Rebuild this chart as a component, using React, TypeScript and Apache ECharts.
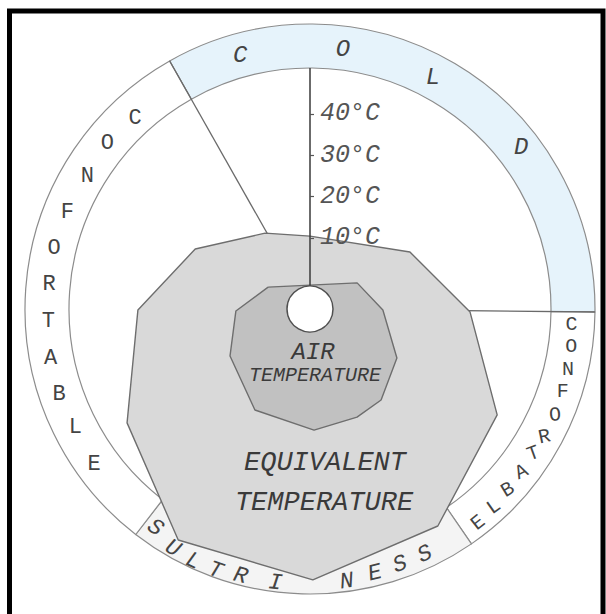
import React, { useEffect, useRef } from "react";
import * as echarts from "echarts";

// ---- data ----
const zoneNames = ["COLD", "CONFORTABLE", "SULTRINESS", "NO CONFORTABLE"];
const zoneSpans = [120.1, 54.9, 72.2, 112.8]; // degrees of the outer ring
const zoneStartCompass = 330.5; // compass angle where COLD begins
const dividerAngles = [330.5, 90.6];
const tickValues = [10, 20, 30, 40];
const axisTop = 51.07; // °C value reached by the drawn scale line (inner circle)

// equivalent temperature polygon (°C scale, compass angle)
const eqAngles = [329.4, 0, 60.3, 91.1, 119.5, 149.5, 179.4, 209.7, 238.1, 269.7, 297.6];
const eqValues = [14.1, 10.4, 20.6, 31.5, 44.8, 53.7, 58.3, 57.1, 44.9, 34.4, 24.1];
// air temperature polygon
const airAngles = [297.6, 61.0, 90.8, 119.4, 142.0, 156.5, 178.1, 208.6, 239.6, 268.5];
const airValues = [4.2, 5.8, 10.4, 16.9, 20.7, 21.3, 22.1, 20.6, 15.2, 10.7];

// ring lettering
const coldLetters = ["C", "O", "L", "D"];
const leftLetters = ["C", "O", "N", "F", "O", "R", "T", "A", "B", "L", "E"];
const rightLetters = ["C", "O", "N", "F", "O", "R", "T", "A", "B", "L", "E"];
const bottomLetters = ["S", "U", "L", "T", "R", "I", "N", "E", "S", "S"];

// ---- layout ----
const CX = 310;
const CY = 309;
const HOLE_R = 23;
const INNER_R = 241;
const OUTER_R = 285;
const R_MIN = -1.67;
const R_MAX = 61.72; // value at the outer circle
const MONO = "'Liberation Mono', 'Courier New', monospace";

const coldPos = { angles: [344.6, 7.2, 28, 52.6], radii: [263, 262, 262, 266], rot: [0, 0, 0, 0] };
const leftPos = {
  angles: [317.5, 309.3, 300.7, 291.6, 283.4, 275.3, 267.2, 259.3, 251.2, 243.1, 234.3],
  radii: [259, 262, 259, 261, 263, 262, 262, 264, 265, 263, 266],
  rot: [0, 0, 0, 0, 0, 0, 0, 0, 0, 0, 0],
};
const rightPos = {
  angles: [93.5, 98.2, 103.3, 108.1, 113.4, 118.6, 122.9, 127.6, 132.4, 137.1, 141.8],
  radii: [262, 264, 265, 266, 267, 267, 266, 267, 268, 270, 272],
  rot: [0, 0, 0, 0, 4, 12, 20, 26, 31, 35, 38],
};
const bottomPos = {
  angles: [215.3, 209.8, 204.9, 199.9, 194.6, 187.2, 172.3, 166.2, 160.6, 154.9],
  radii: [268, 276, 278, 278, 276, 276, 275, 272, 271, 271],
  rot: [-35, -30, -25, -20, -15, -7, 8, 14, 19, 25],
};

function letterEls(
  letters: string[],
  pos: { angles: number[]; radii: number[]; rot: number[] },
  size: number,
  italic: boolean
) {
  return letters.map((ch, i) => {
    const a = (pos.angles[i] * Math.PI) / 180;
    const r = pos.radii[i];
    return {
      type: "text",
      x: CX + r * Math.sin(a),
      y: CY - r * Math.cos(a),
      rotation: (pos.rot[i] * Math.PI) / 180,
      z: 120,
      silent: true,
      style: {
        text: ch,
        fill: "#444",
        fontSize: size,
        fontFamily: MONO,
        fontStyle: italic ? "italic" : "normal",
        textAlign: "center",
        textVerticalAlign: "middle",
        align: "center",
        verticalAlign: "middle",
      },
    };
  });
}

function label(text: string, x: number, y: number, size: number) {
  return {
    type: "text",
    x,
    y,
    z: 120,
    silent: true,
    style: {
      text,
      fill: "#3a3a3a",
      fontSize: size,
      fontFamily: MONO,
      fontStyle: "italic",
      textAlign: "center",
      textVerticalAlign: "middle",
      align: "center",
      verticalAlign: "middle",
    },
  };
}

function closed(values: number[], angles: number[]) {
  const pts = values.map((v, i) => [v, angles[i]]);
  pts.push(pts[0]);
  return pts;
}

export default function App() {
  const ref = useRef<HTMLDivElement>(null);
  useEffect(() => {
    if (!ref.current) return;
    const chart = echarts.init(ref.current, null, { renderer: "svg" });
    const zoneColors = ["#e6f3fb", "#ffffff", "#f4f4f4", "#ffffff"];
    const option: any = {
      animation: false,
      backgroundColor: "#ffffff",
      polar: { center: [CX, CY], radius: [HOLE_R, OUTER_R] },
      angleAxis: {
        type: "value",
        min: 0,
        max: 360,
        startAngle: 90,
        clockwise: true,
        show: false,
      },
      radiusAxis: {
        type: "value",
        min: R_MIN,
        max: R_MAX,
        z: 10,
        axisLine: { show: false },
        axisTick: {
          customValues: tickValues,
          length: -4,
          lineStyle: { color: "#555", width: 1.2 },
        },
        axisLabel: {
          customValues: tickValues,
          formatter: "{value}°C",
          margin: -10,
          align: "left",
          verticalAlign: "middle",
          color: "#555",
          fontSize: 25,
          fontStyle: "italic",
          fontFamily: MONO,
        },
        splitLine: { show: false },
        splitArea: { show: false },
      },
      series: [
        {
          type: "pie",
          z: 1,
          silent: true,
          center: [CX, CY],
          radius: [INNER_R, OUTER_R],
          startAngle: 90 - zoneStartCompass + 360,
          clockwise: true,
          label: { show: false },
          labelLine: { show: false },
          emphasis: { disabled: true },
          itemStyle: { borderColor: "#8c8c8c", borderWidth: 1.2 },
          data: zoneNames.map((n, i) => ({
            name: n,
            value: zoneSpans[i],
            itemStyle: { color: zoneColors[i] },
          })),
        },
        ...dividerAngles.map((ang) => ({
          type: "line",
          z: 2,
          coordinateSystem: "polar",
          silent: true,
          clip: false,
          symbol: "none",
          lineStyle: { color: "#6a6a6a", width: 1.3 },
          data: [
            [R_MIN, ang],
            [R_MAX, ang],
          ],
        })),
        {
          type: "line",
          z: 3,
          name: "EQUIVALENT TEMPERATURE",
          coordinateSystem: "polar",
          silent: true,
          clip: false,
          symbol: "none",
          smooth: false,
          lineStyle: { color: "#6e6e6e", width: 1.4 },
          areaStyle: { color: "#d9d9d9", opacity: 1, origin: "start" },
          data: closed(eqValues, eqAngles),
        },
        {
          type: "line",
          z: 4,
          name: "AIR TEMPERATURE",
          coordinateSystem: "polar",
          silent: true,
          clip: false,
          symbol: "none",
          smooth: false,
          lineStyle: { color: "#6e6e6e", width: 1.4 },
          areaStyle: { color: "#c1c1c1", opacity: 1, origin: "start" },
          data: closed(airValues, airAngles),
        },
        {
          // the temperature scale line
          type: "line",
          z: 5,
          coordinateSystem: "polar",
          silent: true,
          clip: false,
          symbol: "none",
          lineStyle: { color: "#3a3a3a", width: 1.5 },
          data: [
            [R_MIN, 0],
            [axisTop, 0],
          ],
        },
      ],
      graphic: [
        {
          type: "circle",
          z: 110,
          silent: true,
          shape: { cx: CX, cy: CY, r: HOLE_R },
          style: { fill: "#ffffff", stroke: "#505050", lineWidth: 1.5 },
        },
        label("AIR", 313, 352, 24),
        label("TEMPERATURE", 315, 375, 20),
        label("EQUIVALENT", 325, 463, 27),
        label("TEMPERATURE", 324, 503, 27),
        ...letterEls(coldLetters, coldPos, 24, true),
        ...letterEls(leftLetters, leftPos, 22, false),
        ...letterEls(rightLetters, rightPos, 20, false),
        ...letterEls(bottomLetters, bottomPos, 23, true),
        {
          type: "rect",
          z: 130,
          silent: true,
          shape: { x: 9.5, y: 11, width: 593.5, height: 640 },
          style: { fill: "none", stroke: "#000000", lineWidth: 5 },
        },
      ],
    };
    chart.setOption(option);
    return () => chart.dispose();
  }, []);
  return (
    <div
      ref={ref}
      style={{ position: "fixed", left: 0, top: 0, width: 606, height: 614 }}
    />
  );
}
